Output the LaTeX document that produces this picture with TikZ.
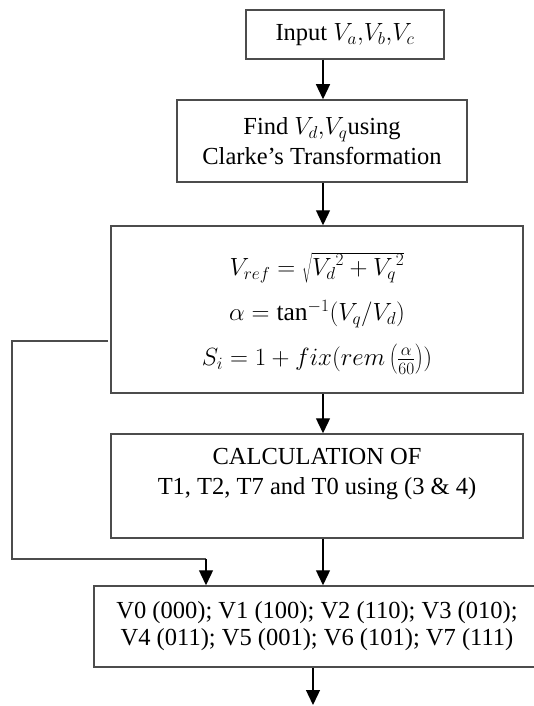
\documentclass[tikz,border=0pt]{standalone}
\usepackage{fontspec}
\setmainfont{Liberation Serif}
\usetikzlibrary{arrows.meta}
\tikzset{
  blk/.style={draw=black!70, line width=1.5pt, align=center, inner sep=0pt,
    font=\fontsize{24.5}{30}\selectfont},
  lnk/.style={black, line width=1.3pt},
}
\begin{document}
\begin{tikzpicture}[x=1pt, y=-1pt, >={Triangle[length=15pt,width=14pt]}]
\useasboundingbox (0,0) rectangle (533,706);
\coordinate (spine) at (323,0);
\node[blk, minimum width=198pt, minimum height=49pt] (input) at (345,34.5) {Input $V_a{,}V_b{,}V_c$};
\node[blk, minimum width=290pt, minimum height=82pt] (find) at (322,141) {Find $V_d{,}V_q$using\\Clarke's Transformation};
\node[blk, minimum width=412pt, minimum height=167pt, font=\fontsize{25.5}{45}\selectfont] (eqs) at (317,309.5)
  {\rule{0pt}{31pt}$V_{ref}=\sqrt{{V_d}^2+{V_q}^2}$\\$\alpha=\tan^{-1}(V_q/V_d)$\\$S_i=1+fix(rem\left(\frac{\alpha}{60}\right))$};
\node[blk, minimum width=412pt, minimum height=104pt] (calc) at (317,486) {CALCULATION OF\\T1, T2, T7 and T0 using (3 \& 4)\\\mbox{}};
\node[blk, minimum width=446pt, minimum height=81pt, font=\fontsize{24.5}{27}\selectfont] (vecs) at (317,626.5)
  {V0 (000); V1 (100); V2 (110); V3 (010);\\V4 (011); V5 (001); V6 (101); V7 (111)};
% main flow
\draw[lnk, ->] (input.south -| spine) -- (find.north -| spine);
\draw[lnk, ->] (find.south -| spine) -- (eqs.north -| spine);
\draw[lnk, ->] (eqs.south -| spine) -- (calc.north -| spine);
\draw[lnk, ->] (calc.south -| spine) -- (vecs.north -| spine);
% sector feedback
\coordinate (tap) at (108,341);
\coordinate (drop) at (206,559);
\draw[black!70, line width=1.3pt] (tap) -- (12,341) |- (drop);
\draw[lnk, ->] (drop) -- (vecs.north -| drop);
\coordinate (exit) at (313,705);
\draw[lnk, ->] (vecs.south -| exit) -- (exit);
\end{tikzpicture}
\end{document}
